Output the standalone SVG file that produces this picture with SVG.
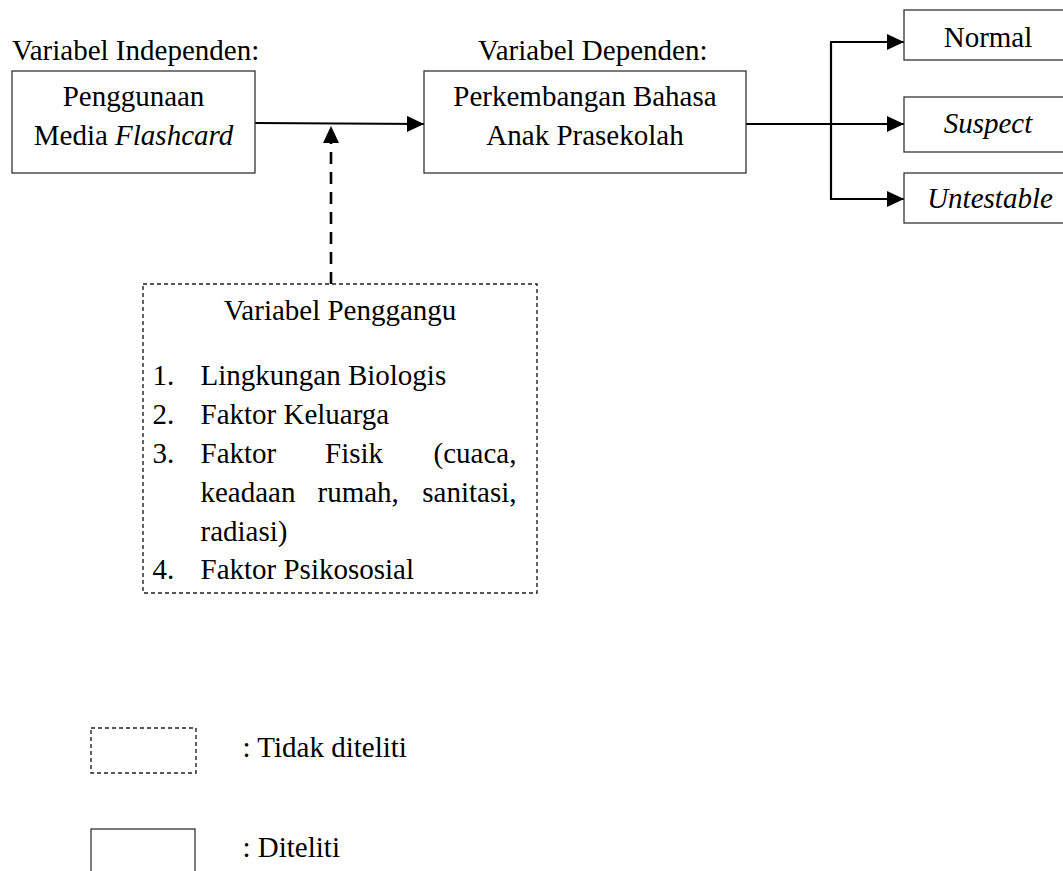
<svg xmlns="http://www.w3.org/2000/svg" width="1063" height="871" viewBox="0 0 1063 871">
  <style>
    text { font-family: "Liberation Serif", "Times New Roman", serif; font-size: 29px; fill: #000; }
    .it { font-style: italic; }
    .box { fill: #fff; stroke: #333; stroke-width: 1.3; }
    .dbox { fill: #fff; stroke: #222; stroke-width: 1.4; stroke-dasharray: 4 3; }
    .line { fill: none; stroke: #000; stroke-width: 2.2; }
    .dline { fill: none; stroke: #000; stroke-width: 2.6; stroke-dasharray: 12 8; }
  </style>
  <defs>
    <marker id="ah" viewBox="0 0 17 16" refX="17" refY="8" markerWidth="17" markerHeight="16" markerUnits="userSpaceOnUse" orient="auto">
      <path d="M0,0 L17,8 L0,16 z" fill="#000"/>
    </marker>
  </defs>
  <rect width="1063" height="871" fill="#fff"/>

  <text x="12" y="60">Variabel Independen:</text>
  <text x="478" y="60">Variabel Dependen:</text>

  <g id="connectors">
    <line class="line" x1="255" y1="123" x2="424" y2="124" marker-end="url(#ah)"/>
    <line class="dline" x1="331" y1="284" x2="331" y2="126" marker-end="url(#ah)"/>
    <line class="line" x1="746" y1="124" x2="831" y2="124"/>
    <line class="line" x1="831" y1="42" x2="831" y2="199"/>
    <line class="line" x1="830" y1="42" x2="904" y2="42" marker-end="url(#ah)"/>
    <line class="line" x1="831" y1="124" x2="904" y2="124" marker-end="url(#ah)"/>
    <line class="line" x1="830" y1="199" x2="904" y2="199" marker-end="url(#ah)"/>
  </g>

  <g id="independen">
    <rect class="box" x="12" y="71" width="243" height="102"/>
    <text x="133.5" y="106" text-anchor="middle">Penggunaan</text>
    <text x="133.5" y="145" text-anchor="middle">Media <tspan class="it">Flashcard</tspan></text>
  </g>

  <g id="dependen">
    <rect class="box" x="424" y="71" width="322" height="102"/>
    <text x="585" y="106" text-anchor="middle">Perkembangan Bahasa</text>
    <text x="585" y="145" text-anchor="middle">Anak Prasekolah</text>
  </g>

  <g id="normal">
    <rect class="box" x="904" y="10" width="175" height="50"/>
    <text x="988" y="47" text-anchor="middle">Normal</text>
  </g>
  <g id="suspect">
    <rect class="box" x="904" y="97" width="175" height="55"/>
    <text x="988" y="133" text-anchor="middle" class="it">Suspect</text>
  </g>
  <g id="untestable">
    <rect class="box" x="904" y="173" width="175" height="50"/>
    <text x="990" y="208" text-anchor="middle" class="it">Untestable</text>
  </g>

  <g id="pengganggu">
    <rect class="dbox" x="143" y="284" width="394" height="309"/>
    <text x="340" y="320" text-anchor="middle">Variabel Penggangu</text>
    <text x="152.5" y="385">1.</text>
    <text x="200.5" y="385">Lingkungan Biologis</text>
    <text x="152.5" y="424">2.</text>
    <text x="200.5" y="424">Faktor Keluarga</text>
    <text x="152.5" y="463">3.</text>
    <text x="200.5" y="463">Faktor</text>
    <text x="325" y="463">Fisik</text>
    <text x="516.5" y="463" text-anchor="end">(cuaca,</text>
    <text x="200.5" y="502">keadaan</text>
    <text x="317.5" y="502">rumah,</text>
    <text x="516.5" y="502" text-anchor="end">sanitasi,</text>
    <text x="200.5" y="541">radiasi)</text>
    <text x="152.5" y="579">4.</text>
    <text x="200.5" y="579">Faktor Psikososial</text>
  </g>

  <g id="legend-tidak">
    <rect class="dbox" x="91" y="728" width="105" height="45"/>
    <text x="242.5" y="757">: Tidak diteliti</text>
  </g>
  <g id="legend-diteliti">
    <rect class="box" x="91" y="829" width="104" height="60"/>
    <text x="242.5" y="857">: Diteliti</text>
  </g>
</svg>
